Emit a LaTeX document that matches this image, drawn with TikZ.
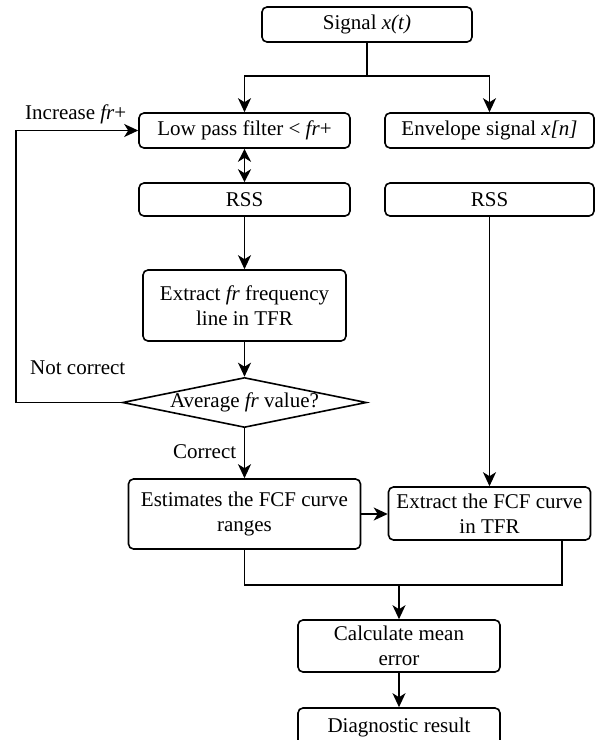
\documentclass[tikz,border=0pt]{standalone}
\usepackage{fontspec}
\setmainfont{Liberation Serif}
\usetikzlibrary{shapes.geometric,arrows.meta,positioning}
\tikzset
{
    procbox/.style  = {rectangle, rounded corners=5pt, draw=black, line width=1.6pt, align=center, inner sep=0pt, font=\fontsize{21}{25}\selectfont},
    decision/.style = {diamond, draw=black, line width=1.6pt, aspect=4.85, inner sep=0pt, minimum width=244pt, minimum height=50pt, font=\fontsize{21}{25}\selectfont},
    lbl/.style      = {anchor=base west, inner sep=0pt, font=\fontsize{21}{25}\selectfont},
    wire/.style     = {line width=1.6pt},
    flow/.style     = {-{Stealth[length=14pt,width=13pt,inset=4pt]}, line width=1.6pt},
    flow2/.style    = {{Stealth[length=13pt,width=13pt,inset=4pt]}-{Stealth[length=13pt,width=13pt,inset=4pt]}, line width=1.6pt}
}

\begin{document}
\begin{tikzpicture}[x=1pt,y=-1pt]
\useasboundingbox (0,0) rectangle (597,740);
\node (sig)  [procbox,minimum width=210pt,minimum height=35pt] at (367,24.5)   {Signal \textit{x(t)}};
\node (lpf)  [procbox,minimum width=211pt,minimum height=35pt] at (244.5,130.5) {Low pass filter < \textit{fr}+};
\node (env)  [procbox,minimum width=209pt,minimum height=35pt] at (489.5,130.5) {Envelope signal \textit{x[n]}};
\node (rss1) [procbox,minimum width=211pt,minimum height=33pt] at (244.5,199.5) {RSS};
\node (rss2) [procbox,minimum width=209pt,minimum height=33pt] at (489.5,199.5) {RSS};
\node (efr)  [procbox,minimum width=203pt,minimum height=71pt] at (244.5,305.5) {Extract \textit{fr} frequency\\line in TFR};
\node (avg)  [decision]                                        at (244.5,402.5) {Average \textit{fr} value?};
\node (est)  [procbox,minimum width=232pt,minimum height=70pt] at (244.5,514)   {Estimates the FCF curve\\ranges};
\node (efcf) [procbox,minimum width=202pt,minimum height=53pt] at (489.5,513.5) {Extract the FCF curve\\in TFR};
\node (calc) [procbox,minimum width=202pt,minimum height=52pt] at (399,646)     {Calculate mean\\error};
\node (diag) [procbox,minimum width=202pt,minimum height=38pt] at (399,727)     {Diagnostic result};

\node (incl) [lbl] at (25,119)  {Increase \textit{fr}+};
\node (notl) [lbl] at (30,374)  {Not correct};
\node (corl) [lbl] at (173,458) {Correct};

\coordinate (split)  at (367,76);
\coordinate (loop)   at (16,402.5);
\coordinate (merge)  at (399,585);
\coordinate (mergeR) at (562,585);

\draw[wire] (sig) -- (split);
\draw[flow] (split) -| (lpf);
\draw[flow] (split) -| (env);
\draw[flow2] (lpf) -- (rss1);
\draw[flow] (rss1) -- (efr);
\draw[flow] (efr) -- (avg);
\draw[flow] (avg) -- (est);
\draw[flow] (avg.west) -- (loop) |- (lpf.west);
\draw[flow] (rss2) -- (efcf);
\draw[flow] (est.east) -- (est.east -| efcf.west);
\draw[wire] (est.south) |- (mergeR) -- (mergeR |- efcf.south);
\draw[flow] (merge) -- (calc);
\draw[flow] (calc) -- (diag);
\end{tikzpicture}
\end{document}
